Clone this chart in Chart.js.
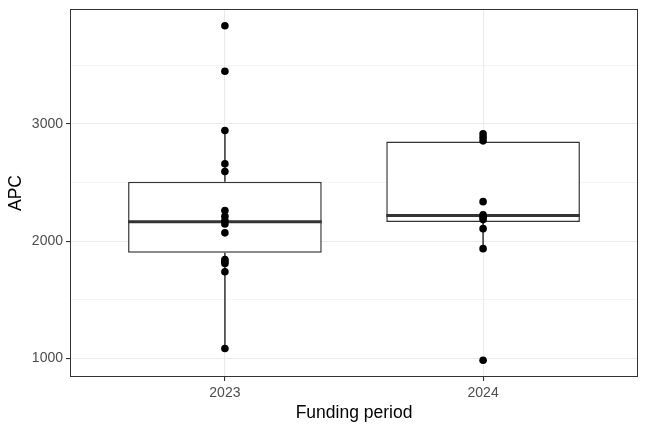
<!DOCTYPE html>
<html><head><meta charset="utf-8">
<script src="https://cdn.jsdelivr.net/npm/chart.js@4"></script>
<style>html,body{margin:0;padding:0;background:#fff}#wrap{width:648px;height:432px}</style>
</head><body><div id="wrap"><canvas id="c" width="648" height="432"></canvas></div>
<script>
const categories = ['2023', '2024'];
const points2023 = [3837, 3449, 2943, 2660, 2594, 2260, 2211, 2174, 2146, 2070, 1843, 1825, 1809, 1738, 1083];
const points2024 = [2915, 2885, 2855, 2336, 2225, 2203, 2183, 2106, 1935, 983];
const q1 = [1900, 2163];
const medians = [2165, 2217];
const q3 = [2506, 2849];
const whiskerLow = [1083, 1935];
const whiskerHigh = [2943, 2915];
const yTicks = [1000, 1500, 2000, 2500, 3000, 3500];
const xTitle = 'Funding period';
const yTitle = 'APC';

const pointSets = [points2023, points2024];
const scatterData = [];
pointSets.forEach((arr, i) => arr.forEach(v => scatterData.push({x: i + 1, y: v})));
const boxData = categories.map((c, i) => ({x: i + 1, y: [q1[i], q3[i]]}));

const boxPlugin = {
  id: 'boxparts',
  beforeDatasetsDraw(chart) {
    const ctx = chart.ctx, xs = chart.scales.x, ys = chart.scales.y;
    ctx.save();
    ctx.strokeStyle = '#333333'; ctx.lineWidth = 1.5;
    categories.forEach((c, i) => {
      const x = xs.getPixelForValue(i + 1);
      ctx.beginPath();
      ctx.moveTo(x, ys.getPixelForValue(whiskerHigh[i])); ctx.lineTo(x, ys.getPixelForValue(q3[i]));
      ctx.moveTo(x, ys.getPixelForValue(q1[i])); ctx.lineTo(x, ys.getPixelForValue(whiskerLow[i]));
      ctx.stroke();
    });
    ctx.restore();
  },
  afterDatasetDraw(chart, args) {
    if (args.index !== 0) return;
    const ctx = chart.ctx, ys = chart.scales.y;
    const meta = chart.getDatasetMeta(0);
    ctx.save();
    ctx.strokeStyle = '#333333'; ctx.lineWidth = 3;
    meta.data.forEach((bar, i) => {
      const y = ys.getPixelForValue(medians[i]);
      ctx.beginPath();
      ctx.moveTo(bar.x - bar.width / 2, y); ctx.lineTo(bar.x + bar.width / 2, y);
      ctx.stroke();
    });
    ctx.restore();
  },
  afterDraw(chart) {
    const a = chart.chartArea, ctx = chart.ctx;
    ctx.save();
    ctx.strokeStyle = '#333333'; ctx.lineWidth = 1;
    ctx.strokeRect(Math.round(a.left) + 0.5, Math.round(a.top) + 0.5, Math.round(a.right - a.left) - 1, Math.round(a.bottom - a.top) - 1);
    ctx.restore();
  }
};

new Chart(document.getElementById('c'), {
  type: 'bar',
  data: {
    datasets: [
      {type: 'bar', data: boxData, backgroundColor: '#ffffff', borderColor: '#333333', borderWidth: 1.5,
       borderSkipped: false, barPercentage: 0.75, categoryPercentage: 1, order: 2},
      {type: 'scatter', data: scatterData, pointRadius: 3.8, pointBackgroundColor: '#000000',
       pointBorderWidth: 0, borderColor: '#000000', showLine: false, order: 1}
    ]
  },
  plugins: [boxPlugin],
  options: {
    responsive: false, animation: false,
    layout: {padding: {top: 9, right: 10, left: 0, bottom: 0}},
    plugins: {legend: {display: false}, tooltip: {enabled: false}},
    scales: {
      x: {
        type: 'linear', min: 0.4, max: 2.6, offset: false,
        afterBuildTicks: s => { s.ticks = categories.map((c, i) => ({value: i + 1})); },
        afterFit: s => { s.height = 55; s.paddingLeft = 0; s.paddingRight = 0; },
        ticks: {callback: v => categories[v - 1], color: '#4D4D4D', font: {family: 'Liberation Sans', size: 14}, padding: 4, maxRotation: 0},
        grid: {offset: false, color: '#EBEBEB', lineWidth: 1.1, tickLength: 4, tickColor: '#333333', tickWidth: 1.1},
        border: {display: false},
        title: {display: true, text: xTitle, color: '#000000', font: {family: 'Liberation Sans', size: 17.5}, padding: {top: 0, bottom: 8}}
      },
      y: {
        min: 840, max: 3980,
        afterBuildTicks: s => { s.ticks = yTicks.map(v => ({value: v})); },
        afterFit: s => { s.width = 70; s.paddingTop = 0; s.paddingBottom = 0; },
        ticks: {callback: v => (v % 1000 === 0 ? String(v) : ''), color: '#4D4D4D', font: {family: 'Liberation Sans', size: 14}, padding: 3},
        grid: {
          color: '#EBEBEB',
          lineWidth: c => (c.tick && c.tick.value % 1000 === 0 ? 1.1 : 0.55),
          tickLength: 4,
          tickColor: c => (c.tick && c.tick.value % 1000 === 0 ? '#333333' : 'rgba(0,0,0,0)'),
          tickWidth: 1.1
        },
        border: {display: false},
        title: {display: true, text: yTitle, color: '#000000', font: {family: 'Liberation Sans', size: 17.5}, padding: {top: 6, bottom: 0}}
      }
    }
  }
});
</script></body></html>
